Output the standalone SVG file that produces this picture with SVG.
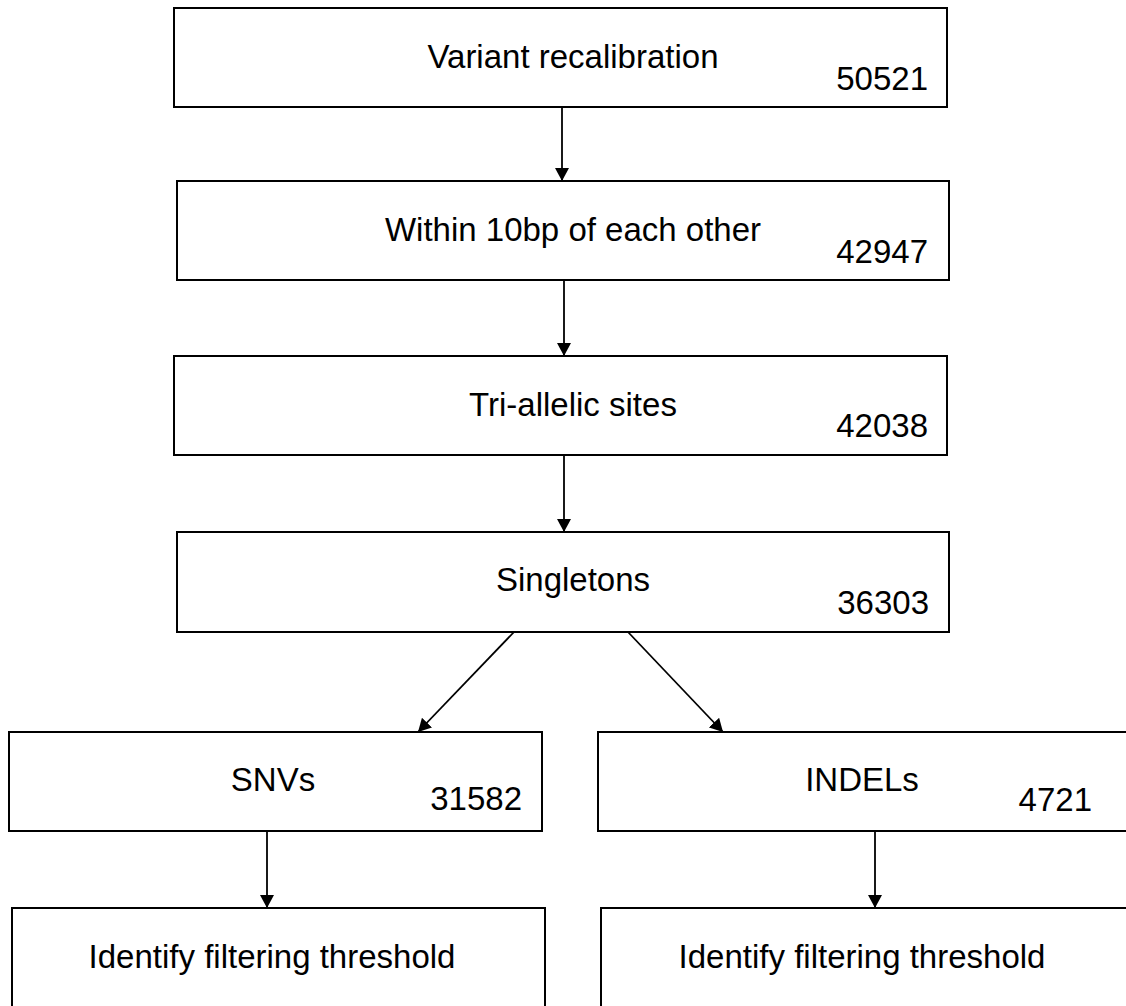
<svg xmlns="http://www.w3.org/2000/svg" width="1126" height="1006" viewBox="0 0 1126 1006">
<style>
.box{fill:#fff;stroke:#000;stroke-width:2}
.t{font-family:"Liberation Sans",Arial,sans-serif;font-size:33px;fill:#000;text-anchor:middle}
.n{font-family:"Liberation Sans",Arial,sans-serif;font-size:33px;fill:#000;text-anchor:end}
.c{stroke:#000;stroke-width:1.8;fill:none;marker-end:url(#ah)}
</style>
<defs>
<marker id="ah" viewBox="0 0 13 14" refX="13" refY="7" markerWidth="13" markerHeight="14" markerUnits="userSpaceOnUse" orient="auto">
<path d="M0,0 L13,7 L0,14 z" fill="#000"/>
</marker>
</defs>
<rect width="1126" height="1006" fill="#fff"/>
<g id="connectors">
<line class="c" x1="562" y1="107" x2="562" y2="181"/>
<line class="c" x1="564" y1="280" x2="564" y2="356"/>
<line class="c" x1="564" y1="455" x2="564" y2="532"/>
<line class="c" x1="514" y1="632" x2="418" y2="732"/>
<line class="c" x1="628" y1="632" x2="723" y2="732"/>
<line class="c" x1="267" y1="831" x2="267" y2="908"/>
<line class="c" x1="875" y1="831" x2="875" y2="908"/>
</g>
<g id="node-variant-recalibration">
<rect class="box" x="174" y="8" width="773" height="99"/>
<text class="t" x="573" y="68">Variant recalibration</text>
<text class="n" x="928" y="90">50521</text>
</g>
<g id="node-within-10bp">
<rect class="box" x="177" y="181" width="772" height="99"/>
<text class="t" x="573" y="241">Within 10bp of each other</text>
<text class="n" x="928" y="263">42947</text>
</g>
<g id="node-tri-allelic">
<rect class="box" x="174" y="356" width="773" height="99"/>
<text class="t" x="573" y="416">Tri-allelic sites</text>
<text class="n" x="928" y="437">42038</text>
</g>
<g id="node-singletons">
<rect class="box" x="177" y="532" width="772" height="100"/>
<text class="t" x="573" y="591">Singletons</text>
<text class="n" x="929" y="614">36303</text>
</g>
<g id="node-snvs">
<rect class="box" x="9" y="732" width="533" height="99"/>
<text class="t" x="273" y="791">SNVs</text>
<text class="n" x="522" y="810">31582</text>
</g>
<g id="node-indels">
<rect class="box" x="598" y="732" width="540" height="99"/>
<text class="t" x="862" y="791">INDELs</text>
<text class="n" x="1092" y="811">4721</text>
</g>
<g id="node-snv-threshold">
<rect class="box" x="12" y="908" width="533" height="110"/>
<text class="t" x="272" y="968">Identify filtering threshold</text>
</g>
<g id="node-indel-threshold">
<rect class="box" x="601" y="908" width="540" height="110"/>
<text class="t" x="862" y="968">Identify filtering threshold</text>
</g>
</svg>
